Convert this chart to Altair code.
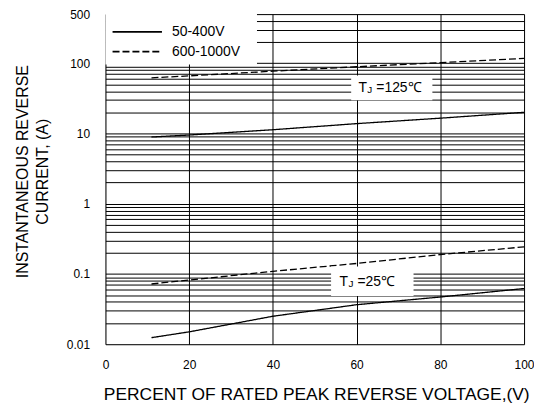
import altair as alt
import pandas as pd

# ---- data ----
x_pts = [11, 20, 40, 60, 80, 100]
i_125_50_400 = [8.9, 9.5, 11.3, 13.8, 16.5, 20.0]
i_125_600_1000 = [62, 66, 77, 89, 102, 117]
i_25_50_400 = [0.0124, 0.015, 0.025, 0.0365, 0.047, 0.062]
i_25_600_1000 = [0.072, 0.082, 0.109, 0.141, 0.189, 0.243]

series_types = ["50-400V", "600-1000V"]

x_ticks = [0, 20, 40, 60, 80, 100]
y_label_vals = [0.01, 0.1, 1, 10, 100, 500]
y_grid_vals = [round(k * 10.0 ** e, 6) for e in range(-2, 3) for k in range(1, 10)] + [200, 300, 400, 500]

# annotation boxes (data coordinates)
ann_text = ["125", "25"]
ann_x = [68.5, 64.0]
ann_y = [45, 0.078]
box_x1 = [58.7, 53.9]
box_x2 = [78.1, 73.6]
box_y1 = [29.8, 0.0484]
box_y2 = [67, 0.128]

# legend placement (data coordinates)
leg_box_x = [0, 36.2]
leg_box_y = [96, 500]
leg_sym_x = [1.7, 13.5]
leg_label_x = 15.9
leg_y = [280, 146]

rows = []
for t, temp, vals in [("50-400V", "125", i_125_50_400), ("600-1000V", "125", i_125_600_1000),
                      ("50-400V", "25", i_25_50_400), ("600-1000V", "25", i_25_600_1000)]:
    for xv, yv in zip(x_pts, vals):
        rows.append({"x": xv, "y": yv, "Type": t, "Temp": temp, "key": t + temp})
df = pd.DataFrame(rows)

ann = pd.DataFrame({"t": ann_text, "x": ann_x, "y": ann_y,
                    "x1": box_x1, "x2": box_x2, "y1": box_y1, "y2": box_y2})
leg = pd.DataFrame({"Type": series_types, "y": leg_y,
                    "xs": [leg_sym_x[0]] * 2, "xe": [leg_sym_x[1]] * 2,
                    "xl": [leg_label_x] * 2})
legbox = pd.DataFrame({"x1": [leg_box_x[0]], "x2": [leg_box_x[1]],
                       "y1": [leg_box_y[0]], "y2": [leg_box_y[1]]})

FONT = "Liberation Sans"

xscale = alt.Scale(domain=[0, 100], nice=False)
yscale = alt.Scale(type="log", domain=[0.01, 500], nice=False)
dash_scale = alt.Scale(domain=series_types, range=[[1, 0], [7, 3]])

label_expr = "indexof([0.01,0.1,1,10,100,500], datum.value) >= 0 ? format(datum.value, '~g') : ''"

xaxis = alt.Axis(values=x_ticks, grid=True, gridColor="#000", gridWidth=1, ticks=False,
                 domain=False, labelPadding=15, labelFontSize=12, labelFont=FONT, labelColor="#000",
                 labelFlush=False,
                 title="PERCENT OF RATED PEAK REVERSE  VOLTAGE,(V)", titleFont=FONT,
                 titleFontSize=17.5, titleFontWeight="normal", titleColor="#000",
                 titleX=212, titleY=56, titleAlign="center", titleBaseline="alphabetic")
yaxis = alt.Axis(values=y_grid_vals, grid=True, gridColor="#000", gridWidth=1, ticks=False,
                 domain=False, labelExpr=label_expr, labelPadding=16, labelFontSize=12,
                 labelFont=FONT, labelColor="#000", labelFlush=False,
                 title=["INSTANTANEOUS REVERSE", "CURRENT, (A)"], titleFont=FONT,
                 titleFontSize=16, titleFontWeight="normal", titleColor="#000",
                 titleLineHeight=20, titleX=-91, titleY=158, titleBaseline="top",
                 titleAlign="center", titleAngle=270)

lines = alt.Chart(df).mark_line(color="black", strokeWidth=1.3).encode(
    x=alt.X("x:Q", scale=xscale, axis=xaxis),
    y=alt.Y("y:Q", scale=yscale, axis=yaxis),
    strokeDash=alt.StrokeDash("Type:N", scale=dash_scale, legend=None),
    detail="key:N",
)

boxes = alt.Chart(ann).mark_rect(fill="white").encode(
    x="x1:Q", x2="x2", y="y1:Q", y2="y2")

t1 = alt.Chart(ann).mark_text(text="T", align="left", baseline="middle", dx=-34,
                              fontSize=14, font=FONT, color="#000").encode(x="x:Q", y="y:Q")
t2 = alt.Chart(ann).mark_text(text="J", align="left", baseline="middle", dx=-25, dy=2,
                              fontSize=10, font=FONT, color="#000").encode(x="x:Q", y="y:Q")
t3 = alt.Chart(ann).mark_text(align="left", baseline="middle", dx=-16,
                              fontSize=14, font=FONT, color="#000").encode(
    x="x:Q", y="y:Q", text=alt.Text("label:N")).transform_calculate(
    label="'=' + datum.t + '℃'")

leg_bg = alt.Chart(legbox).mark_rect(fill="white").encode(
    x="x1:Q", x2="x2", y="y1:Q", y2="y2")
leg_lines = alt.Chart(leg).mark_rule(color="black", strokeWidth=1.8).encode(
    x="xs:Q", x2="xe", y="y:Q",
    strokeDash=alt.StrokeDash("Type:N", scale=dash_scale, legend=None))
leg_text = alt.Chart(leg).mark_text(align="left", baseline="middle", fontSize=14,
                                    font=FONT, color="#000").encode(
    x="xl:Q", y="y:Q", text="Type:N")

chart = alt.layer(lines, boxes, t1, t2, t3, leg_bg, leg_lines, leg_text).properties(
    width=421, height=332,
    autosize=alt.AutoSizeParams(type="none"),
    padding={"left": 98, "top": 5, "right": 10, "bottom": 61},
).configure_view(stroke="#555", strokeWidth=1.8).configure(background="white")

chart.save("out.html", embed_options={"renderer": "svg", "actions": False})
